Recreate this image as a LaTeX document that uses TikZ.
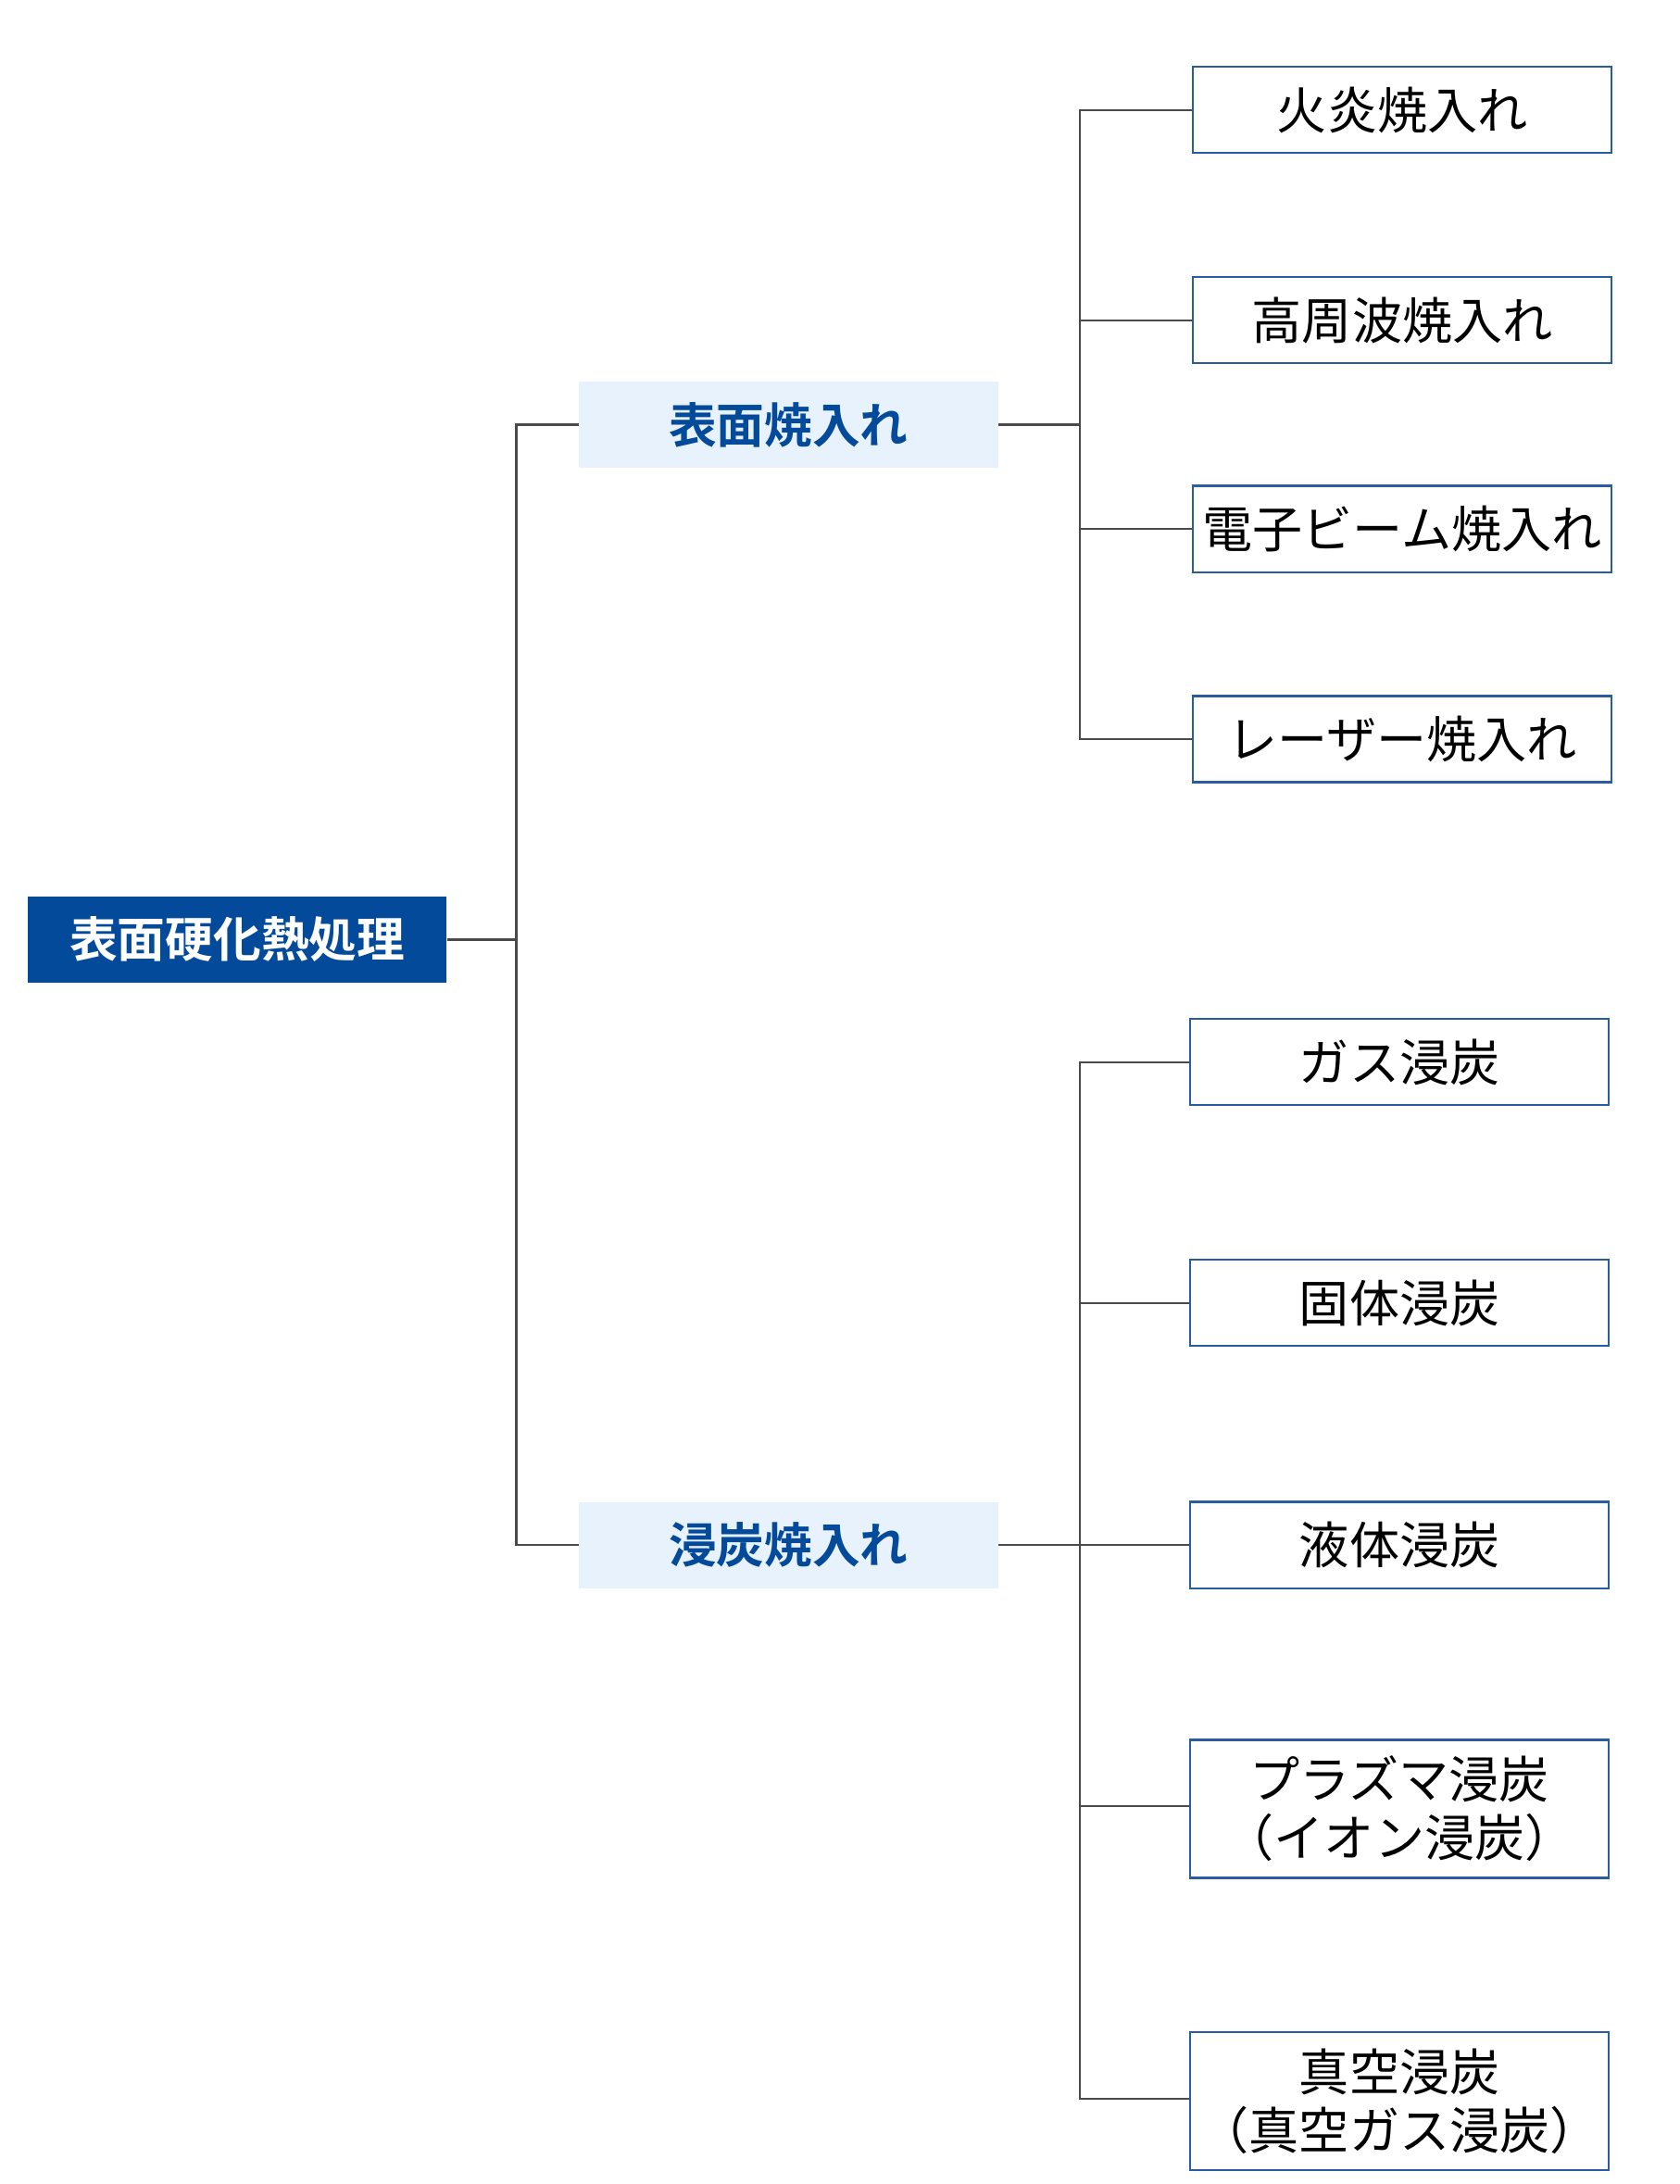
\documentclass[tikz,border=0pt]{standalone}
\usepackage{fontspec}
\setmainfont{Noto Sans CJK JP}[BoldFont={Noto Sans CJK JP Bold}]
\usepackage{tikz}
\usetikzlibrary{calc,positioning}
\definecolor{navy}{HTML}{034A9B}
\definecolor{pale}{HTML}{E8F2FD}
\definecolor{rim}{HTML}{2A5DA0}
\definecolor{wire}{HTML}{4A4A4A}
\tikzset{
    root/.style ={fill=navy, text=white, font=\bfseries\fontsize{17.2}{20}\selectfont,
                  minimum width=150.5pt, minimum height=31pt, inner sep=0pt},
    branch/.style ={fill=pale, text=navy, font=\bfseries\fontsize{17.2}{20}\selectfont,
                  minimum width=150.5pt, minimum height=31pt, inner sep=0pt},
    leaf/.style ={draw=rim, line width=0.75pt, font=\fontsize{18}{21}\selectfont,
                  align=center, minimum width=150.5pt, minimum height=31pt, inner sep=0pt},
    link/.style ={draw=wire, line width=0.75pt}
}

\begin{document}
\begin{tikzpicture}[x=0.5pt,y=-0.5pt]
    \useasboundingbox (0,0) rectangle (1207,1569);

    \node[root] (0) at (170.5,675) {表面硬化熱処理};
    \node[branch] (1) at (566.5,305) {表面焼入れ};
    \node[branch] (2) at (566.5,1110) {浸炭焼入れ};

    \node[leaf] (11) at (1007.5,79) {火炎焼入れ};
    \node[leaf] (12) at (1007.5,230) {高周波焼入れ};
    \node[leaf] (13) at (1007.5,380) {電子ビーム焼入れ};
    \node[leaf] (14) at (1007.5,531) {レーザー焼入れ};

    \node[leaf] (21) at (1005.5,763) {ガス浸炭};
    \node[leaf] (22) at (1005.5,936) {固体浸炭};
    \node[leaf] (23) at (1005.5,1110) {液体浸炭};
    \node[leaf, minimum height=49.5pt] (24) at (1005.5,1299.5) {プラズマ浸炭\\（イオン浸炭）};
    \node[leaf, minimum height=49.5pt] (25) at (1005.5,1509.5) {真空浸炭\\（真空ガス浸炭）};

    \coordinate (j0) at (371,675);
    \coordinate (j1) at (776,305);
    \coordinate (j2) at (776,1110);

    \path[link] (0) -- (j0);
    \path[link] (1.west) -| (j0) |- (2.west);
    \path[link] (1.east) -- (j1);
    \path[link] (2.east) -- (j2);
    \foreach \n in {11,12,13,14}
        \path[link] (j1) |- (\n.west);
    \foreach \n in {21,22,23}
        \path[link] (j2) |- (\n.west);
    \path[link] (j2) |- ($(24.west)+(0,-2)$);
    \path[link] (j2) |- ($(25.west)+(0,-1.5)$);
\end{tikzpicture}
\end{document}
